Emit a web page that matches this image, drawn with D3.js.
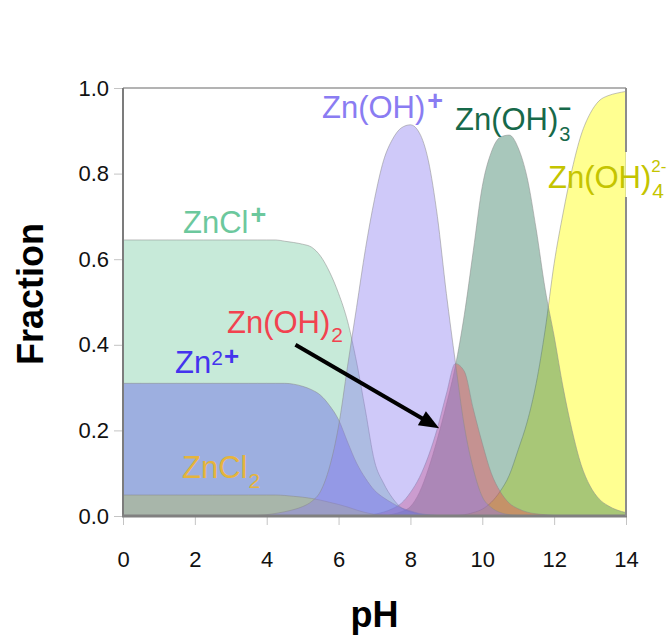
<!DOCTYPE html>
<html>
<head>
<meta charset="utf-8">
<script src="https://cdn.jsdelivr.net/npm/d3@7"></script>
<style>
  html, body { margin: 0; padding: 0; background: #fff; }
  svg { display: block; font-family: "Liberation Sans", Arial, Helvetica, sans-serif; }
</style>
</head>
<body>
<svg id="chart" width="668" height="637"></svg>
<script>
// pH grid (0.25 steps)
const pH = [0, 0.25, 0.5, 0.75, 1, 1.25, 1.5, 1.75, 2, 2.25, 2.5, 2.75, 3, 3.25, 3.5, 3.75,
  4, 4.25, 4.5, 4.75, 5, 5.25, 5.5, 5.75, 6, 6.25, 6.5, 6.75, 7, 7.25, 7.5, 7.75,
  8, 8.25, 8.5, 8.75, 9, 9.25, 9.5, 9.75, 10, 10.25, 10.5, 10.75, 11, 11.25, 11.5, 11.75,
  12, 12.25, 12.5, 12.75, 13, 13.25, 13.5, 13.75, 14];

// Fraction of dissolved zinc present as each species
const fracZnClPlus = [0.645, 0.645, 0.645, 0.645, 0.645, 0.645, 0.645, 0.645, 0.645, 0.645, 0.645, 0.645,
  0.645, 0.645, 0.645, 0.645, 0.645, 0.645,
  0.642, 0.639, 0.635, 0.628, 0.607, 0.57, 0.52, 0.455, 0.36, 0.245, 0.128, 0.077, 0.042, 0.019,
  0.01, 0.005, 0.003, 0.001,
  0, 0, 0, 0, 0, 0, 0, 0, 0, 0, 0, 0, 0, 0, 0, 0, 0, 0, 0, 0, 0];

const fracZn2Plus = [0.31, 0.31, 0.31, 0.31, 0.31, 0.31, 0.31, 0.31, 0.31, 0.31, 0.31, 0.31,
  0.31, 0.31, 0.31, 0.31, 0.31, 0.31, 0.31,
  0.308, 0.303, 0.295, 0.282, 0.258, 0.225, 0.173, 0.124, 0.088, 0.06, 0.043, 0.03, 0.019,
  0.012, 0.006, 0.003, 0.001,
  0, 0, 0, 0, 0, 0, 0, 0, 0, 0, 0, 0, 0, 0, 0, 0, 0, 0, 0, 0, 0];

const fracZnCl2 = [0.049, 0.049, 0.049, 0.049, 0.049, 0.049, 0.049, 0.049, 0.049, 0.049, 0.049, 0.049,
  0.049, 0.049, 0.049, 0.049, 0.049, 0.049,
  0.048, 0.046, 0.044, 0.041, 0.037, 0.032, 0.027, 0.021, 0.014, 0.008, 0.004, 0.002, 0.001,
  0, 0, 0, 0, 0, 0, 0, 0, 0, 0, 0, 0, 0, 0, 0, 0, 0, 0, 0, 0, 0, 0, 0, 0, 0, 0];

const fracZnOHPlus = [0, 0, 0, 0, 0, 0, 0, 0, 0, 0, 0, 0, 0, 0, 0,
  0.001, 0.003, 0.006, 0.01, 0.015, 0.022, 0.034, 0.058, 0.115, 0.21, 0.35, 0.487, 0.625,
  0.74, 0.83, 0.88, 0.907, 0.914, 0.895, 0.83, 0.70, 0.52, 0.36, 0.21, 0.11, 0.045, 0.02,
  0.008, 0.003, 0.001,
  0, 0, 0, 0, 0, 0, 0, 0, 0, 0, 0, 0];

const fracZnOH2 = [0, 0, 0, 0, 0, 0, 0, 0, 0, 0, 0, 0, 0, 0, 0, 0, 0, 0, 0, 0, 0, 0, 0, 0, 0, 0, 0, 0,
  0.004, 0.009, 0.017, 0.03, 0.055, 0.09, 0.14, 0.205, 0.285, 0.356, 0.338, 0.25, 0.17, 0.1,
  0.057, 0.03, 0.017, 0.009, 0.005, 0.003, 0.001,
  0, 0, 0, 0, 0, 0, 0, 0];

const fracZnOH3 = [0, 0, 0, 0, 0, 0, 0, 0, 0, 0, 0, 0, 0, 0, 0, 0, 0, 0, 0, 0, 0, 0, 0, 0, 0, 0, 0, 0, 0, 0,
  0.004, 0.01, 0.022, 0.055, 0.11, 0.18, 0.26, 0.35, 0.47, 0.62, 0.77, 0.85, 0.885, 0.89,
  0.86, 0.79, 0.67, 0.53, 0.42, 0.30, 0.2, 0.12, 0.07, 0.04, 0.024, 0.014, 0.008];

const fracZnOH4 = [0, 0, 0, 0, 0, 0, 0, 0, 0, 0, 0, 0, 0, 0, 0, 0, 0, 0, 0, 0, 0, 0, 0, 0, 0, 0, 0, 0,
  0, 0, 0, 0, 0, 0, 0, 0, 0,
  0.001, 0.003, 0.008, 0.016, 0.032, 0.058, 0.095, 0.155, 0.22, 0.31, 0.435, 0.59, 0.708,
  0.81, 0.89, 0.94, 0.97, 0.982, 0.988, 0.992];

// Axis ticks
const xTicks = [0, 2, 4, 6, 8, 10, 12, 14];
const yTicks = [0, 0.2, 0.4, 0.6, 0.8, 1.0];

// ---------------------------------------------------------------
const svg = d3.select('#chart');
const plot = { left: 123, right: 626, top: 88, bottom: 516 };

const x = d3.scaleLinear().domain([0, 14]).range([plot.left, plot.right]);
const y = d3.scaleLinear().domain([0, 1]).range([plot.bottom, plot.top]);

// Draw order matters: later layers tint the ones below.
const series = [
  { name: 'Zn(OH)4', values: fracZnOH4,    fill: '#ffff00', opacity: 0.43 },
  { name: 'Zn(OH)3', values: fracZnOH3,    fill: '#1f7050', opacity: 0.39 },
  { name: 'Zn(OH)2', values: fracZnOH2,    fill: '#f04452', opacity: 0.40 },
  { name: 'ZnCl+',   values: fracZnClPlus, fill: '#6cc89c', opacity: 0.38 },
  { name: 'Zn2+',    values: fracZn2Plus,  fill: '#4433ee', opacity: 0.32 },
  { name: 'ZnCl2',   values: fracZnCl2,    fill: '#bcc244', opacity: 0.35 },
  { name: 'Zn(OH)+', values: fracZnOHPlus, fill: '#8878f0', opacity: 0.40 }
];

svg.append('defs').append('clipPath').attr('id', 'plotClip')
  .append('rect')
  .attr('x', plot.left).attr('y', plot.top)
  .attr('width', plot.right - plot.left).attr('height', plot.bottom - plot.top);

const area = d3.area()
  .x((d, i) => x(pH[i]))
  .y0(y(0))
  .y1(d => y(d))
  .curve(d3.curveMonotoneX);

svg.append('g').attr('clip-path', 'url(#plotClip)')
  .selectAll('path')
  .data(series)
  .join('path')
  .attr('d', s => area(s.values))
  .attr('fill', s => s.fill)
  .attr('fill-opacity', s => s.opacity)
  .attr('stroke', '#8a8a8a')
  .attr('stroke-opacity', 0.75)
  .attr('stroke-width', 0.7);

// Axes
const yAxis = d3.axisLeft(y).tickValues(yTicks).tickFormat(d3.format('.1f'))
  .tickSize(9).tickPadding(5);
svg.append('g')
  .attr('transform', `translate(${plot.left},0)`)
  .call(yAxis)
  .call(g => g.select('.domain').remove())
  .call(g => g.attr('font-family', null).attr('font-size', null))
  .call(g => g.selectAll('line').attr('stroke', '#c4c4c4').attr('stroke-width', 1))
  .call(g => g.selectAll('text').attr('font-size', 22).attr('fill', '#111'));

const xAxis = d3.axisBottom(x).tickValues(xTicks).tickFormat(d3.format('d'))
  .tickSize(9).tickPadding(26);
svg.append('g')
  .attr('transform', `translate(0,${plot.bottom})`)
  .call(xAxis)
  .call(g => g.select('.domain').remove())
  .call(g => g.attr('font-family', null).attr('font-size', null))
  .call(g => g.selectAll('line').attr('stroke', '#c4c4c4').attr('stroke-width', 1))
  .call(g => g.selectAll('text').attr('font-size', 22).attr('fill', '#111'));

// Plot frame
const frame = svg.append('g').attr('fill', 'none');
frame.append('line').attr('x1', plot.left).attr('x2', plot.right)
  .attr('y1', plot.top).attr('y2', plot.top)
  .attr('stroke', '#9a9a9a').attr('stroke-width', 1.5);
frame.append('line').attr('x1', plot.left).attr('x2', plot.left)
  .attr('y1', plot.top).attr('y2', plot.bottom)
  .attr('stroke', '#7c7c7c').attr('stroke-width', 2);
frame.append('line').attr('x1', plot.left - 1).attr('x2', plot.right + 1)
  .attr('y1', plot.bottom).attr('y2', plot.bottom)
  .attr('stroke', '#808080').attr('stroke-width', 3);
// right edge is interrupted where the Zn(OH)4 label sits
frame.append('line').attr('x1', plot.right).attr('x2', plot.right)
  .attr('y1', plot.top).attr('y2', 152)
  .attr('stroke', '#8c8c8c').attr('stroke-width', 2);
frame.append('line').attr('x1', plot.right).attr('x2', plot.right)
  .attr('y1', 197).attr('y2', plot.bottom)
  .attr('stroke', '#8c8c8c').attr('stroke-width', 2);

// Axis titles
svg.append('text')
  .attr('x', (plot.left + plot.right) / 2).attr('y', 627)
  .attr('text-anchor', 'middle')
  .attr('font-size', 36).attr('font-weight', 'bold').attr('fill', '#000')
  .text('pH');

svg.append('text')
  .attr('transform', `translate(43,${(plot.top + plot.bottom) / 2 - 8}) rotate(-90)`)
  .attr('text-anchor', 'middle')
  .attr('font-size', 36).attr('font-weight', 'bold').attr('fill', '#000')
  .text('Fraction');

// Species labels: one text element per label, scripts as tspans.
// A script with `stack` is drawn over the previous one (shared left edge).
function label(x0, y0, main, color, scripts) {
  const t = svg.append('text')
    .attr('x', x0).attr('y', y0)
    .attr('font-size', 31).attr('fill', color);
  t.append('tspan').text(main);
  let level = 0;
  let prevWidth = 0;
  scripts.forEach(s => {
    const ts = t.append('tspan')
      .attr('font-size', s.size)
      .attr('font-weight', s.bold ? 'bold' : null)
      .attr('dy', s.dy - level)
      .attr('dx', (s.dx || 0) - (s.stack ? prevWidth : 0))
      .text(s.text);
    level = s.dy;
    prevWidth = ts.node().getComputedTextLength() + (s.dx || 0);
  });
}

label(322, 118, 'Zn(OH)', '#8a7cf2', [{ text: '+', size: 27, bold: true, dx: 2, dy: -8 }]);
label(455, 130, 'Zn(OH)', '#17694a', [
  { text: '3', size: 20, dx: 1, dy: 11 },
  { text: '\u2212', size: 22, bold: true, dx: 0, dy: -14, stack: true }
]);
label(548, 188, 'Zn(OH)', '#c4c400', [
  { text: '4', size: 21, dx: 1, dy: 10 },
  { text: '2-', size: 17, dx: 0, dy: -16, stack: true }
]);
label(183, 233, 'ZnCl', '#6cc89d', [{ text: '+', size: 27, bold: true, dx: 2, dy: -9 }]);
label(227, 333, 'Zn(OH)', '#f2424f', [{ text: '2', size: 21, dx: 1, dy: 9 }]);
label(175, 373, 'Zn', '#4433ee', [
  { text: '2', size: 21, dx: 0, dy: -8 },
  { text: '+', size: 26, bold: true, dx: 1, dy: -8 }
]);
label(182, 478, 'ZnCl', '#e5b43c', [{ text: '2', size: 21, dx: 1, dy: 10 }]);

// Arrow pointing from the Zn(OH)2 label to its peak region
const arrowFrom = [4.8, 0.40];
const arrowTo = [8.8, 0.205];
const ax0 = x(arrowFrom[0]), ay0 = y(arrowFrom[1]);
const ax1 = x(arrowTo[0]), ay1 = y(arrowTo[1]);
const len = Math.hypot(ax1 - ax0, ay1 - ay0);
const ux = (ax1 - ax0) / len, uy = (ay1 - ay0) / len;
const headLen = 20, headHalf = 8;
const bx = ax1 - ux * headLen, by = ay1 - uy * headLen;
svg.append('line')
  .attr('x1', ax0).attr('y1', ay0).attr('x2', bx + ux * 2).attr('y2', by + uy * 2)
  .attr('stroke', '#000').attr('stroke-width', 4);
svg.append('path')
  .attr('d', `M${ax1},${ay1} L${bx - uy * headHalf},${by + ux * headHalf} L${bx + uy * headHalf},${by - ux * headHalf} Z`)
  .attr('fill', '#000');
</script>
</body>
</html>
